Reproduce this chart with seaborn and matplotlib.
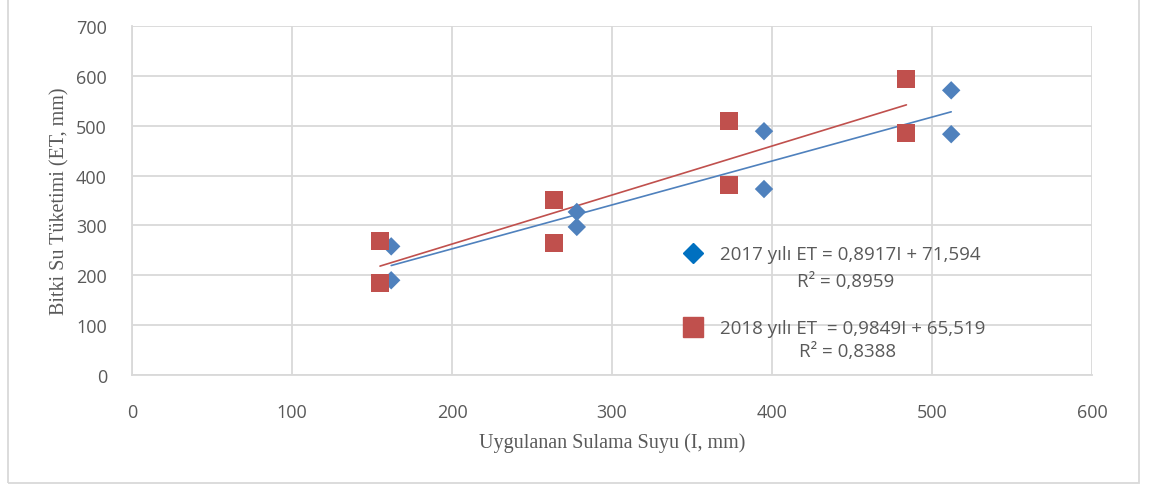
import pandas as pd
import matplotlib.pyplot as plt
import seaborn as sns
from matplotlib.lines import Line2D
from matplotlib.patches import Rectangle

# Data
irrigation_2017 = [162, 162, 278, 278, 395, 395, 512, 512]
et_2017 = [258, 190, 327, 297, 489, 373, 571, 483]
irrigation_2018 = [155, 155, 264, 264, 373, 373, 484, 484]
et_2018 = [268, 184, 351, 265, 509, 381, 593, 486]

eq_2017 = "2017 yılı ET = 0,8917I + 71,594"
r2_2017 = "R² = 0,8959"
eq_2018 = "2018 yılı ET  = 0,9849I + 65,519"
r2_2018 = "R² = 0,8388"

blue = "#4f81bd"
red = "#c0504d"
grid_c = "#d9d9d9"
text_c = "#595959"

sns.set_style("white")
plt.rcParams['font.family'] = ['Open Sans', 'DejaVu Sans']

df17 = pd.DataFrame({'I': irrigation_2017, 'ET': et_2017})
df18 = pd.DataFrame({'I': irrigation_2018, 'ET': et_2018})

fig = plt.figure(figsize=(11.49, 4.89), dpi=100)
ax = fig.add_axes([132/1149, 1 - 376/489, 960/1149, 349/489])

# trendlines (fit over data range)
sns.regplot(data=df17, x='I', y='ET', scatter=False, ci=None, truncate=True,
            line_kws={'color': blue, 'lw': 1.2, 'zorder': 3}, ax=ax)
sns.regplot(data=df18, x='I', y='ET', scatter=False, ci=None, truncate=True,
            line_kws={'color': red, 'lw': 1.2, 'zorder': 3}, ax=ax)

sns.scatterplot(data=df17, x='I', y='ET', marker='D', s=88, color=blue,
                edgecolor='none', ax=ax, zorder=4)
sns.scatterplot(data=df18, x='I', y='ET', marker='s', s=165, color=red,
                edgecolor='none', ax=ax, zorder=4)

ax.set_xlim(0, 600)
ax.set_ylim(0, 700)
ax.set_xticks(range(0, 601, 100))
ax.set_yticks(range(0, 701, 100))
ax.grid(True, color=grid_c, lw=1.3)
ax.set_axisbelow(True)
for side in ['top', 'right']:
    ax.spines[side].set_visible(False)
for side in ['left', 'bottom']:
    ax.spines[side].set_color(grid_c)
    ax.spines[side].set_linewidth(1.3)

ax.tick_params(axis='x', length=0, pad=20, labelsize=13, labelcolor=text_c)
ax.tick_params(axis='y', length=0, pad=18, labelsize=13, labelcolor=text_c)

ax.set_xlabel("Uygulanan Sulama Suyu (I, mm)", family='Liberation Serif',
              fontsize=14.5, color=text_c, labelpad=8)
ax.set_ylabel("Bitki Su Tüketimi (ET, mm)", family='Liberation Serif',
              fontsize=14.5, color=text_c, labelpad=5)

# legend: handle aligned with the equation line, R² line centred below
handles = [
    Line2D([], [], marker='D', ls='none', color='#0070c0', markersize=10.5),
    Line2D([], [], marker='s', ls='none', color=red, markersize=14),
]
leg = ax.legend(handles, [eq_2017, eq_2018], loc='upper left',
                bbox_to_anchor=(0.5644, 0.3935), frameon=False, fontsize=13.5,
                labelcolor=text_c, handletextpad=0.87, labelspacing=3.0,
                handlelength=1.2, borderaxespad=0)
ax.text((846 - 132) / 960, (376 - 282) / 349, r2_2017, transform=ax.transAxes,
        ha='center', va='center', fontsize=13.5, color=text_c)
ax.text((848 - 132) / 960, (376 - 352) / 349, r2_2018, transform=ax.transAxes,
        ha='center', va='center', fontsize=13.5, color=text_c)

# outer chart border
border = Rectangle((8/1149, 5/489), 1131/1149, 1.0, fill=False,
                   edgecolor=grid_c, lw=1.3, transform=fig.transFigure)
fig.add_artist(border)

fig.savefig("out.png", dpi=100)
